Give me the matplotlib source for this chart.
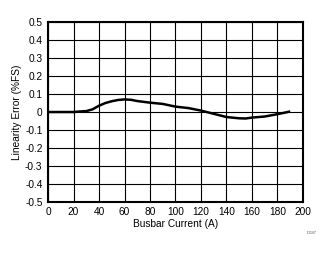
import matplotlib
matplotlib.use('Agg')
import matplotlib.pyplot as plt

plt.rcParams['font.family'] = ['Liberation Sans', 'DejaVu Sans']

# Busbar current (A) vs linearity error (%FS)
current = [0, 10, 20, 25, 30, 35, 40, 45, 50, 55, 60, 65, 70, 80, 90,
           100, 110, 120, 130, 140, 150, 155, 160, 170, 180, 190]
error = [0.0, 0.0, 0.0, 0.003, 0.005, 0.015, 0.035, 0.05, 0.06, 0.067, 0.07,
         0.068, 0.061, 0.052, 0.045, 0.03, 0.022, 0.008, -0.01, -0.028,
         -0.035, -0.036, -0.031, -0.025, -0.012, 0.003]

xticks = list(range(0, 201, 20))
yticks = [-0.5, -0.4, -0.3, -0.2, -0.1, 0, 0.1, 0.2, 0.3, 0.4, 0.5]
ytick_labels = ['-0.5', '-0.4', '-0.3', '-0.2', '-0.1', '0',
                '0.1', '0.2', '0.3', '0.4', '0.5']

fig = plt.figure(figsize=(3.32, 2.54), dpi=100)
ax = fig.add_axes([0.1446, 0.205, 0.768, 0.708])

ax.plot(current, error, color='black', linewidth=1.8, solid_capstyle='butt')

ax.set_xlim(0, 200)
ax.set_ylim(-0.5, 0.5)
ax.set_xticks(xticks)
ax.set_yticks(yticks)
ax.set_yticklabels(ytick_labels)
ax.grid(True, color='black', linewidth=0.8)
ax.tick_params(length=0, labelsize=7.3, pad=4)
for s in ax.spines.values():
    s.set_linewidth(1.5)

ax.set_xlabel('Busbar Current (A)', fontsize=7.3, labelpad=1)
ax.set_ylabel('Linearity Error (%FS)', fontsize=7.3, labelpad=2)

fig.text(0.952, 0.083, 'D087', fontsize=3, color='#555555', ha='right', va='center')

fig.savefig('out.png', dpi=100)
